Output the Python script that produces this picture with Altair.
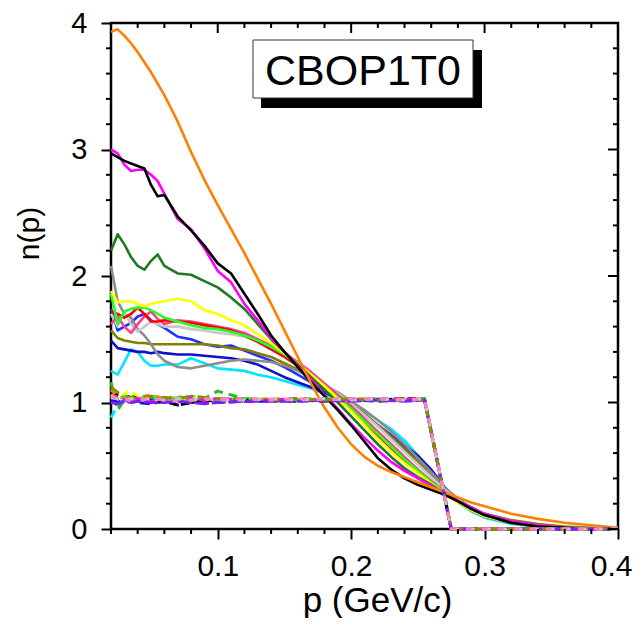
import altair as alt
import pandas as pd

# ---------------- data ----------------
P = [0.02, 0.025, 0.03, 0.035, 0.04, 0.045, 0.05, 0.055, 0.06, 0.07, 0.08, 0.09,
     0.10, 0.11, 0.12, 0.13, 0.14, 0.15, 0.16, 0.17, 0.18, 0.19, 0.20, 0.21, 0.22,
     0.23, 0.24, 0.25, 0.26, 0.27, 0.28, 0.29, 0.30, 0.32, 0.34, 0.36, 0.38, 0.40]

cyan = [1.25, 1.22, 1.32, 1.42, 1.40, 1.33, 1.29, 1.29, 1.30, 1.30, 1.35, 1.31, 1.27, 1.26, 1.25, 1.22, 1.20, 1.17, 1.14, 1.11, 1.07, 1.03, 0.99, 0.93, 0.86, 0.79, 0.70, 0.58, 0.46, 0.32, 0.21, 0.14, 0.09, 0.04, 0.02, 0.01, 0.0, 0.0]
navy = [1.49, 1.43, 1.42, 1.41, 1.40, 1.40, 1.39, 1.40, 1.39, 1.38, 1.38, 1.37, 1.36, 1.35, 1.33, 1.30, 1.25, 1.20, 1.16, 1.12, 1.08, 1.03, 0.97, 0.90, 0.82, 0.74, 0.66, 0.58, 0.47, 0.33, 0.22, 0.15, 0.10, 0.05, 0.02, 0.01, 0.0, 0.0]
blue = [1.74, 1.57, 1.60, 1.63, 1.68, 1.70, 1.65, 1.62, 1.59, 1.52, 1.50, 1.46, 1.44, 1.45, 1.41, 1.37, 1.33, 1.28, 1.22, 1.16, 1.10, 1.04, 0.97, 0.90, 0.82, 0.74, 0.65, 0.55, 0.45, 0.32, 0.22, 0.15, 0.10, 0.05, 0.02, 0.01, 0.0, 0.0]
olive = [1.57, 1.51, 1.49, 1.48, 1.47, 1.47, 1.46, 1.46, 1.46, 1.46, 1.46, 1.46, 1.45, 1.43, 1.42, 1.39, 1.36, 1.31, 1.26, 1.20, 1.13, 1.06, 0.99, 0.91, 0.82, 0.73, 0.63, 0.53, 0.42, 0.31, 0.23, 0.17, 0.12, 0.07, 0.04, 0.02, 0.01, 0.0]
gray = [2.08, 1.80, 1.70, 1.67, 1.58, 1.53, 1.46, 1.38, 1.33, 1.28, 1.27, 1.29, 1.31, 1.33, 1.34, 1.33, 1.32, 1.29, 1.25, 1.20, 1.14, 1.08, 1.01, 0.94, 0.86, 0.77, 0.67, 0.56, 0.45, 0.33, 0.24, 0.17, 0.12, 0.06, 0.03, 0.01, 0.0, 0.0]
lightgray = [1.70, 1.60, 1.72, 1.62, 1.56, 1.60, 1.64, 1.62, 1.60, 1.60, 1.58, 1.57, 1.55, 1.54, 1.52, 1.48, 1.43, 1.37, 1.30, 1.22, 1.14, 1.07, 0.99, 0.90, 0.81, 0.71, 0.61, 0.51, 0.41, 0.31, 0.23, 0.16, 0.11, 0.05, 0.02, 0.01, 0.0, 0.0]
pink = [1.62, 1.68, 1.60, 1.55, 1.62, 1.68, 1.72, 1.66, 1.62, 1.65, 1.64, 1.62, 1.60, 1.58, 1.55, 1.50, 1.45, 1.39, 1.32, 1.24, 1.15, 1.06, 0.97, 0.87, 0.77, 0.67, 0.57, 0.47, 0.38, 0.29, 0.22, 0.15, 0.10, 0.05, 0.02, 0.01, 0.0, 0.0]
red = [1.72, 1.70, 1.67, 1.70, 1.75, 1.70, 1.64, 1.64, 1.65, 1.64, 1.63, 1.61, 1.59, 1.57, 1.53, 1.48, 1.42, 1.36, 1.29, 1.21, 1.12, 1.03, 0.94, 0.84, 0.74, 0.64, 0.54, 0.45, 0.37, 0.29, 0.22, 0.15, 0.10, 0.05, 0.02, 0.01, 0.0, 0.0]
lime = [1.86, 1.62, 1.72, 1.74, 1.75, 1.75, 1.73, 1.70, 1.67, 1.64, 1.61, 1.59, 1.58, 1.56, 1.53, 1.49, 1.44, 1.38, 1.30, 1.22, 1.13, 1.04, 0.95, 0.85, 0.75, 0.65, 0.55, 0.46, 0.37, 0.29, 0.21, 0.15, 0.10, 0.05, 0.02, 0.01, 0.0, 0.0]
yellow = [1.88, 1.79, 1.80, 1.80, 1.78, 1.76, 1.78, 1.79, 1.80, 1.82, 1.80, 1.73, 1.70, 1.65, 1.61, 1.54, 1.47, 1.39, 1.31, 1.22, 1.13, 1.03, 0.93, 0.82, 0.71, 0.61, 0.52, 0.44, 0.36, 0.28, 0.21, 0.15, 0.10, 0.05, 0.02, 0.01, 0.0, 0.0]
dkgreen = [2.20, 2.33, 2.25, 2.15, 2.08, 2.05, 2.12, 2.17, 2.08, 2.02, 2.01, 1.96, 1.91, 1.83, 1.74, 1.62, 1.50, 1.40, 1.30, 1.20, 1.10, 1.00, 0.89, 0.78, 0.67, 0.57, 0.48, 0.41, 0.35, 0.28, 0.22, 0.16, 0.11, 0.05, 0.02, 0.01, 0.0, 0.0]
magenta = [3.00, 2.97, 2.88, 2.83, 2.84, 2.84, 2.80, 2.75, 2.65, 2.45, 2.37, 2.22, 2.04, 1.95, 1.78, 1.65, 1.51, 1.40, 1.29, 1.18, 1.06, 0.95, 0.83, 0.72, 0.62, 0.53, 0.46, 0.40, 0.34, 0.28, 0.22, 0.17, 0.12, 0.06, 0.03, 0.01, 0.0, 0.0]
black = [2.97, 2.94, 2.91, 2.89, 2.87, 2.85, 2.72, 2.63, 2.64, 2.47, 2.36, 2.24, 2.10, 2.02, 1.86, 1.70, 1.53, 1.40, 1.28, 1.16, 1.05, 0.94, 0.82, 0.69, 0.56, 0.47, 0.40, 0.35, 0.31, 0.27, 0.22, 0.16, 0.11, 0.05, 0.02, 0.01, 0.0, 0.0]
orange = [3.93, 3.95, 3.90, 3.84, 3.77, 3.69, 3.61, 3.52, 3.43, 3.22, 2.98, 2.76, 2.56, 2.37, 2.18, 1.98, 1.78, 1.57, 1.36, 1.15, 0.96, 0.80, 0.67, 0.57, 0.50, 0.45, 0.41, 0.37, 0.33, 0.29, 0.25, 0.21, 0.18, 0.12, 0.08, 0.05, 0.03, 0.01]

solid_names = ["s01_cyan", "s02_navy", "s03_blue", "s04_olive", "s05_gray", "s06_lightgray",
               "s07_pink", "s08_red", "s09_lime", "s10_yellow", "s11_dkgreen", "s12_magenta",
               "s13_black", "s14_orange"]
solid_values = [cyan, navy, blue, olive, gray, lightgray, pink, red,
                lime, yellow, dkgreen, magenta, black, orange]
solid_colors = ["#00E5FF", "#1010C8", "#2030FF", "#808000", "#8C8C8C", "#C8C8C8", "#FF3C8C", "#FF0000",
                "#22FF22", "#FFFF00", "#1E7A1E", "#FF00FF", "#000000", "#FF8000"]
solid_top = ["s13_black", "s14_orange"]          # drawn above the others

PD = [0.02, 0.025, 0.03, 0.035, 0.04, 0.05, 0.06, 0.07, 0.08, 0.09, 0.10, 0.12,
      0.14, 0.16, 0.18, 0.20, 0.22, 0.24, 0.255, 0.275, 0.30, 0.35, 0.40]
d_cyan = [0.88, 0.98, 1.04, 1.03, 1.02, 1.03, 1.01, 1.02, 1.03, 1.02, 1.02, 1.03, 1.02, 1.02, 1.03, 1.02, 1.03, 1.02, 1.03, 0.0, 0.0, 0.0, 0.0]
d_green = [1.16, 0.94, 1.02, 1.04, 1.06, 1.03, 1.04, 1.02, 1.05, 1.03, 1.09, 1.03, 1.02, 1.03, 1.02, 1.03, 1.02, 1.03, 1.02, 0.0, 0.0, 0.0, 0.0]
d_yellow = [1.05, 1.04, 1.07, 1.09, 1.05, 1.02, 0.99, 1.03, 1.04, 1.02, 1.01, 1.02, 1.03, 1.02, 1.01, 1.02, 1.03, 1.02, 1.03, 0.0, 0.0, 0.0, 0.0]
d_blue = [1.02, 1.00, 1.02, 1.01, 1.00, 0.99, 1.01, 0.98, 1.00, 1.01, 1.00, 1.01, 1.01, 1.02, 1.01, 1.02, 1.01, 1.02, 1.02, 0.0, 0.0, 0.0, 0.0]
d_black = [1.08, 1.06, 1.04, 1.05, 1.03, 1.02, 1.01, 0.98, 1.00, 1.02, 1.01, 1.02, 1.02, 1.01, 1.02, 1.02, 1.02, 1.03, 1.03, 0.0, 0.0, 0.0, 0.0]
d_orange = [1.10, 1.05, 1.03, 1.02, 1.04, 1.06, 1.03, 1.05, 1.02, 1.02, 1.03, 1.02, 1.03, 1.02, 1.02, 1.03, 1.02, 1.02, 1.03, 0.0, 0.0, 0.0, 0.0]
d_lime = [1.06, 1.03, 1.05, 1.02, 1.03, 1.05, 1.03, 1.04, 1.02, 1.03, 1.02, 1.03, 1.02, 1.02, 1.03, 1.02, 1.02, 1.02, 1.03, 0.0, 0.0, 0.0, 0.0]
d_magenta = [1.03, 1.05, 1.02, 1.04, 1.03, 1.01, 1.03, 1.02, 1.04, 1.02, 1.03, 1.02, 1.02, 1.03, 1.02, 1.02, 1.03, 1.03, 1.02, 0.0, 0.0, 0.0, 0.0]
d_pink = [1.06, 1.02, 1.03, 1.01, 1.02, 1.03, 1.02, 1.01, 1.02, 1.03, 1.02, 1.03, 1.02, 1.03, 1.02, 1.03, 1.03, 1.02, 1.03, 0.0, 0.0, 0.0, 0.0]
d_olive = [1.12, 1.08, 1.05, 1.04, 1.03, 1.05, 1.04, 1.03, 1.05, 1.04, 1.03, 1.03, 1.02, 1.03, 1.02, 1.03, 1.02, 1.03, 1.02, 0.0, 0.0, 0.0, 0.0]
d_lgray = [1.04, 1.03, 1.02, 1.03, 1.02, 1.03, 1.02, 1.03, 1.02, 1.03, 1.02, 1.02, 1.03, 1.02, 1.03, 1.02, 1.03, 1.02, 1.03, 0.0, 0.0, 0.0, 0.0]
d_purple = [1.00, 0.99, 1.01, 1.00, 1.01, 1.00, 1.00, 1.01, 1.00, 0.99, 1.00, 1.01, 1.01, 1.01, 1.02, 1.01, 1.02, 1.01, 1.02, 0.0, 0.0, 0.0, 0.0]

dash_names = ["d01_cyan", "d02_green", "d03_yellow", "d04_blue", "d05_black", "d06_orange",
              "d07_lime", "d08_magenta", "d09_purple", "d10_olive", "d11_lgray", "d12_pink"]
dash_values = [d_cyan, d_green, d_yellow, d_blue, d_black, d_orange,
               d_lime, d_magenta, d_purple, d_olive, d_lgray, d_pink]
dash_colors = ["#00E5FF", "#22C022", "#FFFF00", "#1010C8", "#000000", "#FF8000",
               "#22FF22", "#FF00FF", "#7A1EFF", "#8C8C00", "#C8C8C8", "#FF80C0"]
dash_patterns = [[8, 5], [9, 6], [7, 5], [10, 5], [8, 4], [6, 6],
                 [9, 4], [7, 6], [14, 3], [10, 8], [7, 9], [6, 10]]
dash_top = ["d09_purple", "d10_olive", "d11_lgray", "d12_pink"]   # drawn above the others

x_major = [0.1, 0.2, 0.3, 0.4]
x_minor = [0.02, 0.04, 0.06, 0.08, 0.12, 0.14, 0.16, 0.18, 0.22, 0.24, 0.26, 0.28,
           0.32, 0.34, 0.36, 0.38]
y_major = [0, 1, 2, 3, 4]
y_minor = [0.2, 0.4, 0.6, 0.8, 1.2, 1.4, 1.6, 1.8, 2.2, 2.4, 2.6, 2.8, 3.2, 3.4, 3.6, 3.8]

label_text = "CBOP1T0"
x_title = "p (GeV/c)"
y_title = "n(p)"

# ---------------- tables ----------------
solid_rows = []
for name, vals in zip(solid_names, solid_values):
    for p, v in zip(P, vals):
        solid_rows.append({"series": name, "p": p, "n": v})
df_solid = pd.DataFrame(solid_rows)
df_solid_low = df_solid[~df_solid["series"].isin(solid_top)]
df_solid_top = df_solid[df_solid["series"].isin(solid_top)]

dash_rows = []
for name, vals in zip(dash_names, dash_values):
    for p, v in zip(PD, vals):
        dash_rows.append({"series": name, "p": p, "n": v})
df_dash = pd.DataFrame(dash_rows)
df_dash_low = df_dash[~df_dash["series"].isin(dash_top)]
df_dash_top = df_dash[df_dash["series"].isin(dash_top)]

df_xmaj = pd.DataFrame({"t": x_major})
df_xmin = pd.DataFrame({"t": x_minor})
df_ymaj = pd.DataFrame({"t": y_major})
df_ymin = pd.DataFrame({"t": y_minor})
df_one = pd.DataFrame({"label": [label_text]})

# ---------------- layout ----------------
W, H = 507, 506
FONT = "Liberation Sans"

xscale = alt.Scale(domain=[0.02, 0.4], nice=False, zero=False)
yscale = alt.Scale(domain=[0, 4], nice=False, zero=True)

xaxis = alt.Axis(values=x_major, format=".1f", tickSize=10, tickWidth=2, tickColor="black",
                 domain=False, grid=False, labelFont=FONT, labelFontSize=30, labelColor="black",
                 labelPadding=12, labelFlush=True, labelFlushOffset=14,
                 title=x_title, titleFont=FONT, titleFontSize=35,
                 titleFontWeight="normal", titleColor="black", titleX=266, titleY=82,
                 titleBaseline="alphabetic", titleAlign="center")
yaxis = alt.Axis(values=y_major, format="d", tickSize=10, tickWidth=2, tickColor="black",
                 domain=False, grid=False, labelFont=FONT, labelFontSize=29, labelColor="black",
                 labelPadding=14, labelFlush=False, title=y_title, titleFont=FONT, titleFontSize=30,
                 titleFontWeight="normal", titleColor="black", titleX=-82, titleY=210,
                 titleAngle=270, titleBaseline="middle", titleAlign="center")


def X(field):
    return alt.X(field, type="quantitative", scale=xscale, axis=xaxis)


def Y(field):
    return alt.Y(field, type="quantitative", scale=yscale, axis=yaxis)


solid_color = alt.Color("series:N", scale=alt.Scale(domain=solid_names + dash_names,
                                                    range=solid_colors + dash_colors), legend=None)
dash_style = alt.StrokeDash("series:N", scale=alt.Scale(domain=dash_names, range=dash_patterns), legend=None)


def solid_layer(df):
    return alt.Chart(df).mark_line(strokeWidth=2.6, strokeJoin="round").encode(
        x=X("p"), y=Y("n"), color=solid_color)


def dash_layer(df):
    return alt.Chart(df).mark_line(strokeWidth=3, strokeJoin="round").encode(
        x=X("p"), y=Y("n"), color=solid_color, strokeDash=dash_style)


tick_style = dict(color="black", strokeWidth=2)
bx_minor = alt.Chart(df_xmin).mark_rule(**tick_style).encode(x=X("t"), y=alt.value(H), y2=alt.value(H + 5))
tx_major = alt.Chart(df_xmaj).mark_rule(**tick_style).encode(x=X("t"), y=alt.value(0), y2=alt.value(10))
tx_minor = alt.Chart(df_xmin).mark_rule(**tick_style).encode(x=X("t"), y=alt.value(0), y2=alt.value(5))
ly_minor = alt.Chart(df_ymin).mark_rule(**tick_style).encode(y=Y("t"), x=alt.value(-5), x2=alt.value(0))
ry_major = alt.Chart(df_ymaj).mark_rule(**tick_style).encode(y=Y("t"), x=alt.value(W - 10), x2=alt.value(W))
ry_minor = alt.Chart(df_ymin).mark_rule(**tick_style).encode(y=Y("t"), x=alt.value(W - 5), x2=alt.value(W))

shadow = alt.Chart(df_one).mark_rect(color="black").encode(
    x=alt.value(150), x2=alt.value(371), y=alt.value(27), y2=alt.value(85))
box = alt.Chart(df_one).mark_rect(fill="white", stroke="#333333", strokeWidth=1).encode(
    x=alt.value(142), x2=alt.value(362), y=alt.value(17), y2=alt.value(75))
label = alt.Chart(df_one).mark_text(font=FONT, fontSize=43, color="black", align="center",
                                    baseline="alphabetic").encode(
    text="label:N", x=alt.value(252), y=alt.value(62))

chart = alt.layer(
    solid_layer(df_solid_low), solid_layer(df_solid_top),
    dash_layer(df_dash_low), dash_layer(df_dash_top),
    bx_minor, tx_major, tx_minor, ly_minor, ry_major, ry_minor, shadow, box, label
).properties(
    width=W, height=H,
    padding={"left": 103, "top": 15, "right": 18, "bottom": 89},
    autosize=alt.AutoSizeParams(type="none"),
    background="white",
).configure_view(stroke="black", strokeWidth=2.5)

chart.save("out.html", embed_options={"renderer": "svg", "actions": False})
